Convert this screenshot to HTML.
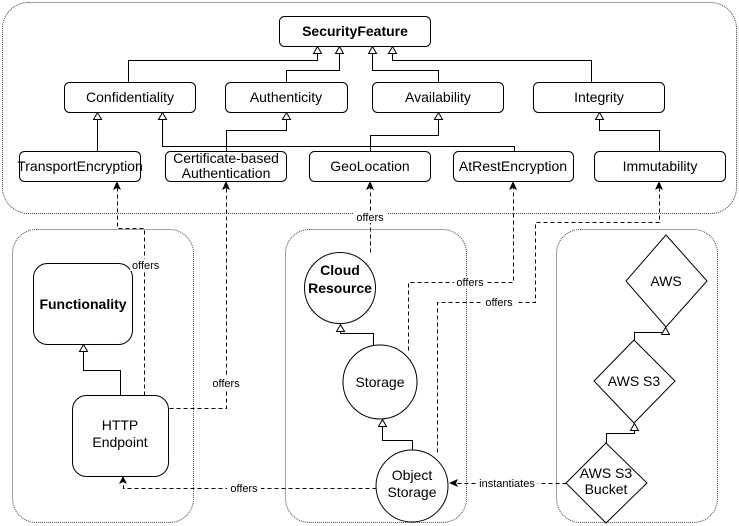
<!DOCTYPE html>
<html><head><meta charset="utf-8"><style>
html,body{margin:0;padding:0;background:#fff;width:739px;height:526px;overflow:hidden}
svg{display:block}
text{font-family:"Liberation Sans",Arial,sans-serif;font-size:14px;fill:#000}
.b{fill:#fff;stroke:#000;stroke-width:1}
.c{fill:none;stroke:#444;stroke-width:1;stroke-dasharray:1,1}
.l{fill:none;stroke:#000;stroke-width:1}
.d{fill:none;stroke:#000;stroke-width:1;stroke-dasharray:4,3}
.t{fill:#fff;stroke:#000;stroke-width:1}
.lbl{font-size:11px}
</style></head><body>
<svg width="739" height="526" viewBox="0 0 739 526" xmlns="http://www.w3.org/2000/svg">
<rect class="c" x="2.5" y="2.5" width="734" height="211" rx="26"/>
<rect class="c" x="12.5" y="229.5" width="181" height="293" rx="24"/>
<rect class="c" x="285.5" y="229.5" width="181" height="293" rx="24"/>
<rect class="c" x="556.5" y="229.5" width="161" height="293" rx="24"/>

<g transform="translate(0.5,0.5)">
<polyline class="l" points="128,82 128,60 317,60 317,53"/>
<polyline class="l" points="286,82 286,70 339,70 339,53"/>
<polyline class="l" points="438,82 438,70 372,70 372,53"/>
<polyline class="l" points="591,82 591,60 392,60 392,53"/>
<polyline class="l" points="97,151 97,119"/>
<polyline class="l" points="226,151 226,130 286,130 286,119"/>
<polyline class="l" points="514,151 514,146 162,146 162,119"/>
<polyline class="l" points="370,151 370,135 438,135 438,119"/>
<polyline class="l" points="659,151 659,130 599,130 599,119"/>
<g class="t">
<path d="M313,53 L317,46 L321,53Z"/><path d="M335,53 L339,46 L343,53Z"/>
<path d="M368,53 L372,46 L376,53Z"/><path d="M388,53 L392,46 L396,53Z"/>
<path d="M93,119 L97,112 L101,119Z"/><path d="M158,119 L162,112 L166,119Z"/>
<path d="M282,119 L286,112 L290,119Z"/><path d="M434,119 L438,112 L442,119Z"/>
<path d="M595,119 L599,112 L603,119Z"/>
</g>
<polyline class="l" points="120,395 120,370 83,370 83,351"/>
<path class="t" d="M79,351 L83,344 L87,351Z"/>
<polyline class="l" points="373,345 373,333 340,333 340,331"/>
<path class="t" d="M336,331 L340,324 L344,331Z"/>
<polyline class="l" points="412,450 412,440 382,440 382,426"/>
<path class="t" d="M378,426 L382,419 L386,426Z"/>
<polyline class="l" points="634,340 634,332 665,332 665,334"/>
<polyline class="l" points="606,443 606,433 634,433 634,430"/>
<path class="t" d="M661,334 L665,327 L669,334Z"/>
<path class="t" d="M630,430 L634,423 L638,430Z"/>

<polyline class="d" points="144,395 144,228 117,228 117,188"/>
<polyline class="d" points="169,408 226,408 226,188"/>
<polyline class="d" points="370,252 370,188"/>
<polyline class="d" points="408,350 408,282 513,282 513,188"/>
<polyline class="d" points="437,452 437,302 535,302 535,222 659,222 659,188"/>
<polyline class="d" points="376,488 123,488 123,482"/>
<polyline class="d" points="566,483 457,483"/>
</g>

<rect class="b" x="279.5" y="16.5" width="151" height="30" rx="5"/>
<text x="355" y="36" text-anchor="middle" font-weight="bold">SecurityFeature</text>
<rect class="b" x="64.5" y="82.5" width="131" height="30" rx="5"/>
<text x="130" y="102" text-anchor="middle">Confidentiality</text>
<rect class="b" x="225.5" y="82.5" width="122" height="30" rx="5"/>
<text x="286" y="102" text-anchor="middle">Authenticity</text>
<rect class="b" x="372.5" y="82.5" width="131" height="30" rx="5"/>
<text x="438" y="102" text-anchor="middle">Availability</text>
<rect class="b" x="533.5" y="82.5" width="131" height="30" rx="5"/>
<text x="599" y="102" text-anchor="middle">Integrity</text>
<rect class="b" x="19.5" y="151.5" width="121" height="30" rx="5"/>
<text x="80" y="171" text-anchor="middle">TransportEncryption</text>
<rect class="b" x="165.5" y="151.5" width="121" height="30" rx="5"/>
<text x="226" y="163" text-anchor="middle">Certificate-based</text>
<text x="226" y="178" text-anchor="middle">Authentication</text>
<rect class="b" x="309.5" y="151.5" width="121" height="30" rx="5"/>
<text x="370" y="171" text-anchor="middle">GeoLocation</text>
<rect class="b" x="453.5" y="151.5" width="120" height="30" rx="5"/>
<text x="513" y="171" text-anchor="middle">AtRestEncryption</text>
<rect class="b" x="594.5" y="151.5" width="131" height="30" rx="5"/>
<text x="660" y="171" text-anchor="middle">Immutability</text>

<rect class="b" x="33.5" y="263.5" width="99" height="81" rx="14"/>
<text x="83" y="309" text-anchor="middle" font-weight="bold">Functionality</text>
<rect class="b" x="72.5" y="395.5" width="96" height="81" rx="14"/>
<text x="120" y="430" text-anchor="middle">HTTP</text>
<text x="120" y="447" text-anchor="middle">Endpoint</text>

<circle class="b" cx="340" cy="288" r="35.5"/>
<text x="340" y="275" text-anchor="middle" font-weight="bold">Cloud</text>
<text x="340" y="293" text-anchor="middle" font-weight="bold">Resource</text>
<circle class="b" cx="380" cy="382" r="37"/>
<text x="380" y="387" text-anchor="middle">Storage</text>
<circle class="b" cx="412" cy="486" r="36"/>
<text x="412" y="480" text-anchor="middle">Object</text>
<text x="412" y="497" text-anchor="middle">Storage</text>

<path class="b" d="M666,235 L707,281 L666,327 L626,281Z"/>
<text x="666" y="286" text-anchor="middle">AWS</text>
<path class="b" d="M634,340 L675,381 L634,423 L594,381Z"/>
<text x="634" y="386" text-anchor="middle">AWS S3</text>
<path class="b" d="M606,443 L647,483 L606,523 L566,483Z"/>
<text x="606" y="478" text-anchor="middle">AWS S3</text>
<text x="606" y="494" text-anchor="middle">Bucket</text>

<g fill="#000">
<path d="M113,190 L117,181 L121,190 L117,188Z"/>
<path d="M222,190 L226,181 L230,190 L226,188Z"/>
<path d="M366,190 L370,181 L374,190 L370,188Z"/>
<path d="M509,190 L513,181 L517,190 L513,188Z"/>
<path d="M655,190 L659,181 L663,190 L659,188Z"/>
<path d="M119,484 L123,476 L127,484 L123,482Z"/>
<path d="M458,479 L449,483 L458,487 L456,483Z"/>
</g>
<rect x="130" y="259" width="32" height="12" fill="#fff"/><text class="lbl" x="132" y="269">offers</text>
<rect x="209" y="377" width="34" height="12" fill="#fff"/><text class="lbl" x="226" y="387" text-anchor="middle">offers</text>
<rect x="353" y="211" width="34" height="12" fill="#fff"/><text class="lbl" x="370" y="221" text-anchor="middle">offers</text>
<rect x="454" y="276" width="33" height="12" fill="#fff"/><text class="lbl" x="470" y="286" text-anchor="middle">offers</text>
<rect x="483" y="296" width="33" height="12" fill="#fff"/><text class="lbl" x="499" y="306" text-anchor="middle">offers</text>
<rect x="227" y="482" width="34" height="12" fill="#fff"/><text class="lbl" x="244" y="492" text-anchor="middle">offers</text>
<rect x="476" y="477" width="62" height="12" fill="#fff"/><text class="lbl" x="507" y="487" text-anchor="middle">instantiates</text>
</svg>
</body></html>
